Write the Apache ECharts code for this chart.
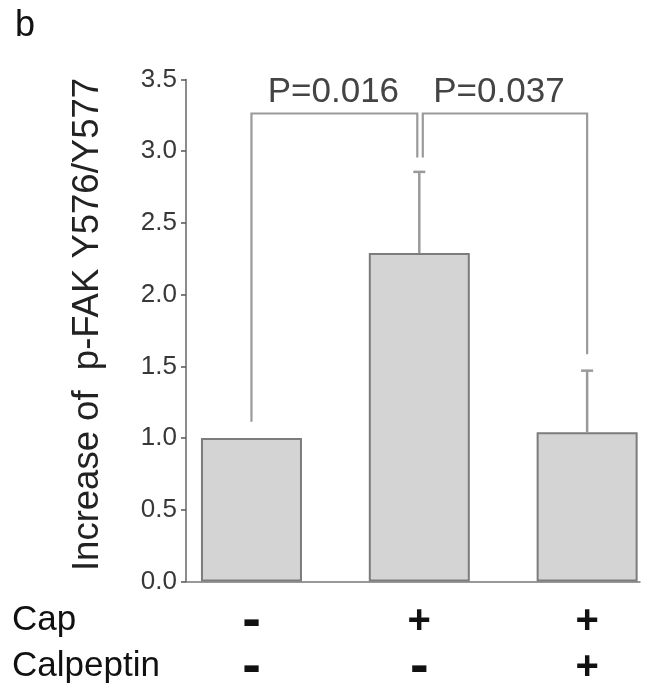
<!DOCTYPE html>
<html>
<head>
<meta charset="utf-8">
<script src="https://cdn.jsdelivr.net/npm/echarts@6/dist/echarts.min.js"></script>
<style>
html,body{margin:0;padding:0;background:#fff;}
#c{width:659px;height:692px;}
</style>
</head>
<body>
<div id="c"></div>
<script>
// ---- data ----
const panelLetter = 'b';
const yAxisTitle = 'Increase of  p-FAK Y576/Y577';
const rowTitles = ['Cap', 'Calpeptin'];
const groupPositions = [1, 2, 3];
const capRow = ['-', '+', '+'];
const calpeptinRow = ['-', '-', '+'];
const barValues = [1.00, 2.29, 1.04];
const barErrors = [0, 0.566, 0.43];
const yTicks = [0, 0.5, 1.0, 1.5, 2.0, 2.5, 3.0, 3.5];
// comparisons: [group index A, group index B]
const comparePairs = [[0, 1], [1, 2]];
const compareLabels = ['P=0.016', 'P=0.037'];
const bracketTops = [3.263, 3.263];
const bracketLegEnds = [[1.114, 2.956], [2.956, 1.585]];

// ---- build ----
const chart = echarts.init(document.getElementById('c'), null, {renderer: 'canvas'});
const FONT = 'Liberation Sans, Arial, sans-serif';

const barData = groupPositions.map((x, i) => [x, barValues[i]]);
const errData = groupPositions.map((x, i) => [x, barValues[i], barErrors[i]]);
const bracketData = comparePairs.map((p, i) => [
  groupPositions[p[0]], groupPositions[p[1]], bracketTops[i],
  bracketLegEnds[i][0], bracketLegEnds[i][1], i
]);

function symLabel(rows) {
  return function (v) {
    const idx = groupPositions.indexOf(Math.round(v));
    const s = rows[idx];
    return s === '+' ? '{p|+}' : '{m|-}';
  };
}
const richSym = {
  p: {fontSize: 40, fontWeight: 'bold', fontFamily: FONT, color: '#111'},
  m: {fontSize: 56, fontWeight: 'bold', fontFamily: FONT, color: '#111'}
};

const LINE = '#9a9a9a';

const option = {
  backgroundColor: '#fff',
  animation: false,
  grid: {left: 186, right: 19, top: 79.5, bottom: 110.5, containLabel: false, outerBoundsMode: 'none'},
  xAxis: [
    {
      type: 'value', min: 0.61, max: 3.315, position: 'bottom',
      axisLine: {show: true, onZero: false, lineStyle: {color: '#777', width: 1.5}},
      axisTick: {show: false},
      splitLine: {show: false},
      axisLabel: {
        customValues: groupPositions, formatter: symLabel(capRow),
        margin: 40, verticalAlign: 'middle', rich: richSym
      }
    },
    {
      type: 'value', min: 0.61, max: 3.315, position: 'bottom',
      axisLine: {show: false}, axisTick: {show: false}, splitLine: {show: false},
      axisLabel: {
        customValues: groupPositions, formatter: symLabel(calpeptinRow),
        margin: 86, verticalAlign: 'middle', rich: richSym
      }
    }
  ],
  yAxis: {
    type: 'value', min: 0, max: 3.5, interval: 0.5,
    name: yAxisTitle, nameLocation: 'middle', nameRotate: 90, nameGap: 80,
    nameTextStyle: {fontSize: 36.5, fontFamily: FONT, color: '#222', padding: [0, 0, 0, 12]},
    axisLine: {show: true, lineStyle: {color: '#666', width: 1.5}},
    axisTick: {show: true, inside: false, length: 5, lineStyle: {color: '#555', width: 1.5}},
    splitLine: {show: false},
    axisLabel: {
      customValues: yTicks,
      formatter: v => v.toFixed(1), fontSize: 26, fontFamily: FONT, color: '#383838', margin: 9
    }
  },
  series: [
    {
      type: 'bar', xAxisIndex: 0, data: barData, barWidth: 101,
      itemStyle: {color: '#d4d4d4', borderColor: '#7c7c7c', borderWidth: 2},
      z: 2
    },
    {
      type: 'custom', xAxisIndex: 0, data: errData, z: 3,
      renderItem: function (params, api) {
        const err = api.value(2);
        if (!err) return null;
        const x = api.value(0), v = api.value(1);
        const b = api.coord([x, v]);
        const t = api.coord([x, v + err]);
        const st = {stroke: LINE, lineWidth: 2.5};
        return {
          type: 'group', children: [
            {type: 'line', shape: {x1: b[0], y1: b[1], x2: t[0], y2: t[1]}, style: st},
            {type: 'line', shape: {x1: t[0] - 6, y1: t[1], x2: t[0] + 6, y2: t[1]}, style: st}
          ]
        };
      }
    },
    {
      type: 'custom', xAxisIndex: 0, data: bracketData, z: 4,
      renderItem: function (params, api) {
        const xa = api.value(0), xb = api.value(1), top = api.value(2);
        const la = api.value(3), lb = api.value(4), idx = api.value(5);
        // nudge legs that share a bar so they sit side by side
        const offA = idx === 1 ? 3.5 : 0;
        const offB = idx === 0 ? -2 : 0;
        const pA = api.coord([xa, top]), pB = api.coord([xb, top]);
        const eA = api.coord([xa, la]), eB = api.coord([xb, lb]);
        const ax = pA[0] + offA, bx = pB[0] + offB;
        return {
          type: 'group', children: [
            {type: 'polyline', shape: {points: [[ax, eA[1]], [ax, pA[1]], [bx, pB[1]], [bx, eB[1]]]},
             style: {stroke: LINE, lineWidth: 2.2, fill: null}},
            {type: 'text', x: (ax + bx) / 2 - (idx === 1 ? 6 : 1), y: pA[1] - 21,
             style: {text: compareLabels[idx], fontSize: 35, fontFamily: FONT, fill: '#444',
                     align: 'center', verticalAlign: 'middle'}}
          ]
        };
      }
    }
  ],
  graphic: [
    {type: 'text', left: 15, top: 8,
     style: {text: panelLetter, fontSize: 36, fontFamily: FONT, fill: '#111'}},
    {type: 'text', x: 12, y: 620,
     style: {text: rowTitles[0], fontSize: 35, fontFamily: FONT, fill: '#111', verticalAlign: 'middle'}},
    {type: 'text', x: 12, y: 666,
     style: {text: rowTitles[1], fontSize: 35, fontFamily: FONT, fill: '#111', verticalAlign: 'middle'}}
  ]
};
chart.setOption(option);
</script>
</body>
</html>
